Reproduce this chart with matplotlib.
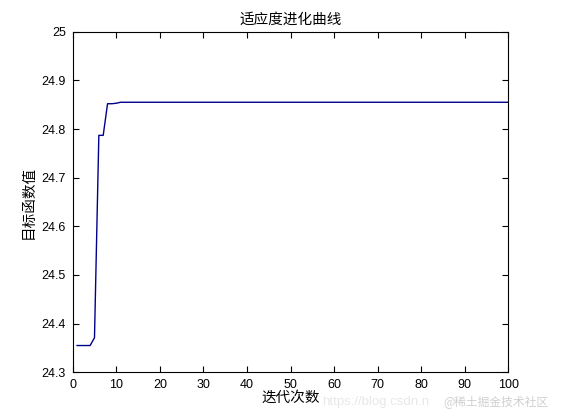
import numpy as np
import matplotlib
matplotlib.use('Agg')
import matplotlib.pyplot as plt
from matplotlib.ticker import FormatStrFormatter

plt.rcParams['font.family'] = ['Liberation Sans', 'Noto Sans CJK SC', 'DejaVu Sans']

# 迭代次数 1..100 的最优适应度
gen = list(range(1, 101))
best = [24.355, 24.355, 24.355, 24.355, 24.371, 24.787, 24.787, 24.852, 24.852, 24.853,
        24.855] + [24.855] * 89

xticks = list(range(0, 101, 10))
yticks = [24.3, 24.4, 24.5, 24.6, 24.7, 24.8, 24.9, 25.0]

fig = plt.figure(figsize=(5.61, 4.2), dpi=100)
ax = fig.add_axes([0.1296, 0.1136, 0.7765, 0.8109])
ax.plot(gen, best, color='#00008b', linewidth=1.0)

ax.set_xlim(0, 100)
ax.set_ylim(24.3, 25)
ax.set_xticks(xticks)
ax.set_yticks(yticks)
ax.yaxis.set_major_formatter(FormatStrFormatter('%g'))
ax.tick_params(direction='in', top=True, right=True, length=4, width=0.8,
               labelsize=9, pad=5)
for s in ax.spines.values():
    s.set_linewidth(0.8)

cjk = ['Noto Sans CJK SC', 'DejaVu Sans']
ax.set_title('适应度进化曲线', fontsize=10.5, family=cjk, pad=6)
ax.set_xlabel('迭代次数', fontsize=10.5, family=cjk, labelpad=0)
ax.set_ylabel('目标函数值', fontsize=10.5, family=cjk, labelpad=4)

# 水印
fig.text(0.575, 0.035, 'https://blog.csdn.n', fontsize=9.5, color='#e8e8e8')
fig.text(0.79, 0.035, '@稀土掘金技术社区', fontsize=8.5, color='#d0d0d0', family=cjk)

fig.savefig('out.png', dpi=100)
